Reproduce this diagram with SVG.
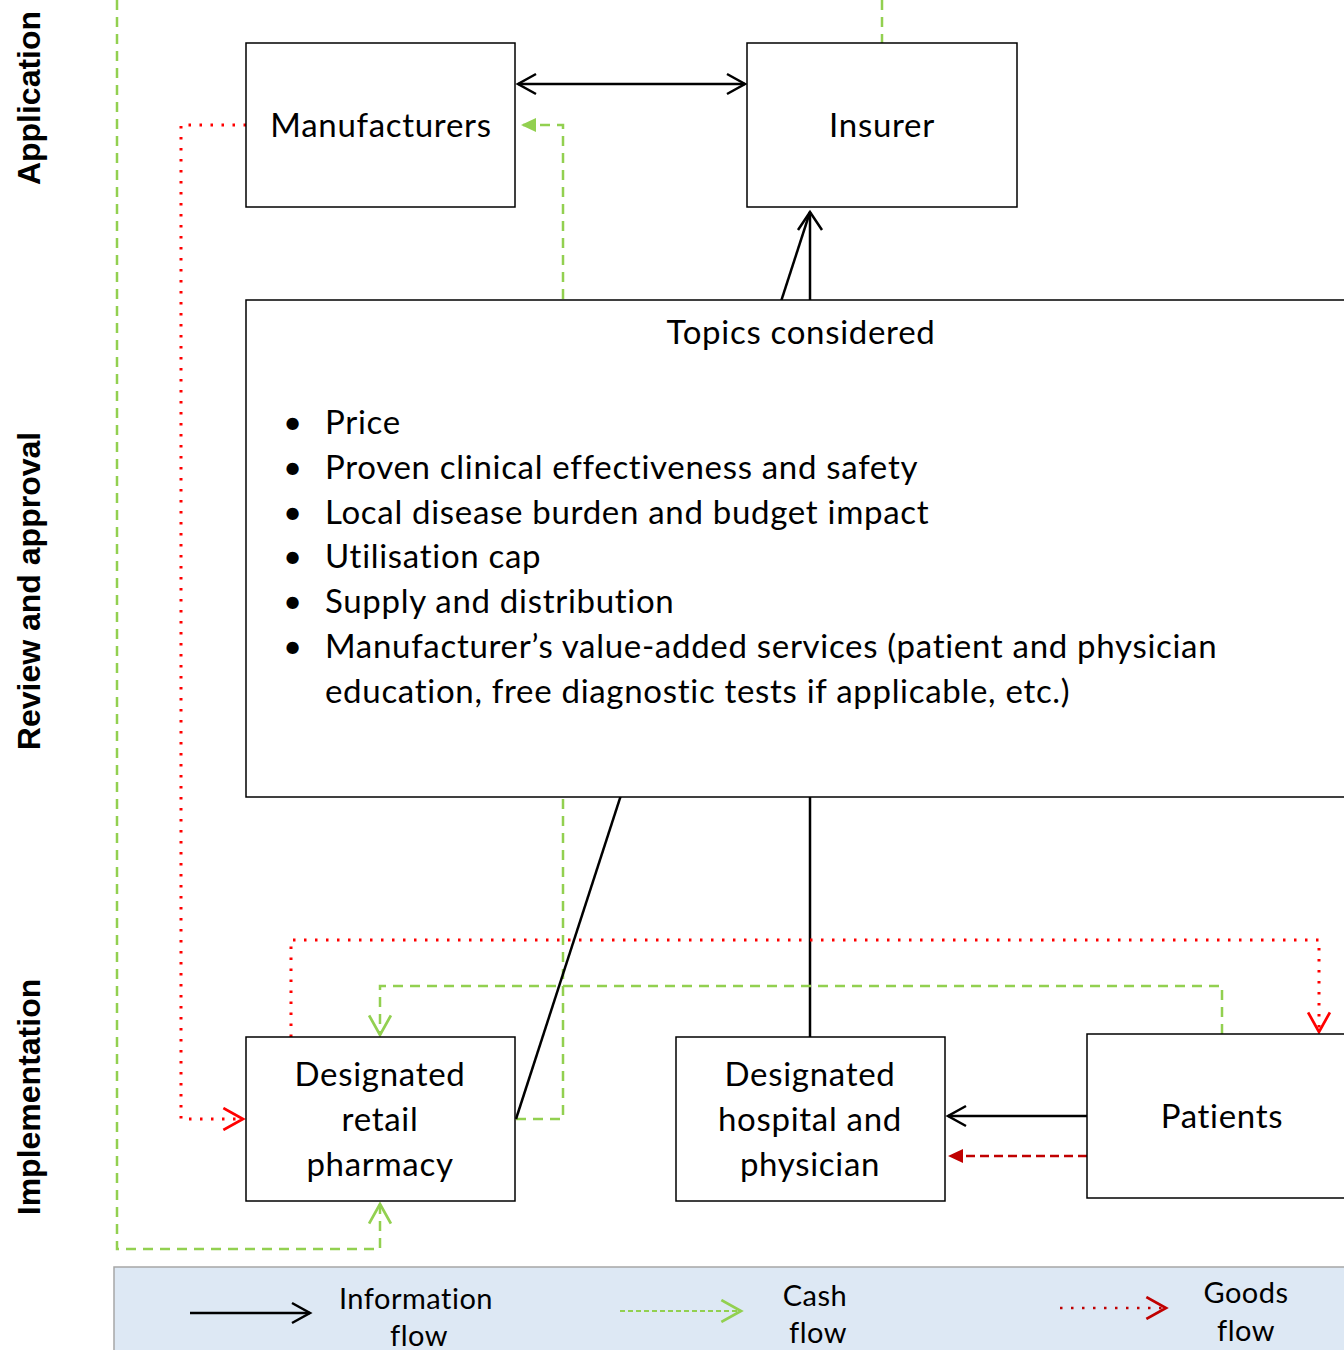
<svg xmlns="http://www.w3.org/2000/svg" width="1344" height="1350" viewBox="0 0 1344 1350">
<style>
.box{fill:#fff;stroke:#000;stroke-width:1.5}
.t{font-family:Lato,"Open Sans","Liberation Sans",sans-serif;font-size:33px;letter-spacing:0.7px;fill:#000}
.c{text-anchor:middle}
.lab{font-family:"Liberation Sans",Arial,sans-serif;font-weight:bold;font-size:32px;fill:#000;text-anchor:middle}
.lg{font-family:Lato,"Open Sans","Liberation Sans",sans-serif;font-size:29px;letter-spacing:0.5px;fill:#000;text-anchor:middle}
.info{fill:none;stroke:#000;stroke-width:2.5}
.cash{fill:none;stroke:#92d050;stroke-width:2.5;stroke-dasharray:10 7}
.goods{fill:none;stroke:#ff0000;stroke-width:3;stroke-dasharray:2.5 8.5}
.pay{fill:none;stroke:#c00000;stroke-width:2.5;stroke-dasharray:9 5}
</style>
<defs>
<marker id="aBlk" markerUnits="userSpaceOnUse" markerWidth="24" markerHeight="28" refX="19" refY="12" orient="auto-start-reverse" viewBox="0 0 24 24"><path d="M1,2 L19,12 L1,22" fill="none" stroke="#000" stroke-width="2.5"/></marker>
<marker id="aBlkL" markerUnits="userSpaceOnUse" markerWidth="24" markerHeight="30" refX="19" refY="13" orient="auto" viewBox="0 0 24 26"><path d="M1,1 L19,13 L1,25" fill="none" stroke="#000" stroke-width="2.5"/></marker>
<marker id="aGrn" markerUnits="userSpaceOnUse" markerWidth="24" markerHeight="24" refX="19" refY="11" orient="auto" viewBox="0 0 22 22"><path d="M1,1 L19,11 L1,21" fill="none" stroke="#92d050" stroke-width="2.5"/></marker>
<marker id="aRed" markerUnits="userSpaceOnUse" markerWidth="24" markerHeight="24" refX="19" refY="11" orient="auto" viewBox="0 0 22 22"><path d="M1,1 L19,11 L1,21" fill="none" stroke="#ff0000" stroke-width="2.5"/></marker>
<marker id="aRedD" markerUnits="userSpaceOnUse" markerWidth="24" markerHeight="24" refX="19" refY="11" orient="auto" viewBox="0 0 22 22"><path d="M1,1 L19,11 L1,21" fill="none" stroke="#c00000" stroke-width="2.5"/></marker>
<marker id="tGrn" markerUnits="userSpaceOnUse" markerWidth="16" markerHeight="16" refX="15" refY="8" orient="auto" viewBox="0 0 16 16"><path d="M0,1 L15,8 L0,15 z" fill="#92d050"/></marker>
<marker id="tRed" markerUnits="userSpaceOnUse" markerWidth="16" markerHeight="16" refX="15" refY="8" orient="auto" viewBox="0 0 16 16"><path d="M0,1 L15,8 L0,15 z" fill="#c00000"/></marker>
</defs>
<rect width="1344" height="1350" fill="#fff"/>

<g id="phase-labels">
<text class="lab" transform="translate(40,98) rotate(-90)">Application</text>
<text class="lab" transform="translate(40,591) rotate(-90)">Review and approval</text>
<text class="lab" transform="translate(40,1097) rotate(-90)">Implementation</text>
</g>

<g id="connectors">
<path class="info" d="M518,84 H745" marker-start="url(#aBlk)" marker-end="url(#aBlk)"/>
<path class="cash" d="M516,1119 H563 V125 H521" marker-end="url(#tGrn)"/>
<path class="cash" d="M882,0 V43"/>
<path class="cash" d="M117,0 V1249 H380 V1204" marker-end="url(#aGrn)"/>
<path class="goods" d="M246,125 H181 V1119 H243" marker-end="url(#aRed)"/>
<path class="info" d="M516,1119 L810,212"/>
<path class="info" d="M810,1037 V212" marker-end="url(#aBlkL)"/>
<path class="goods" d="M291,1037 V940 H1319 V1032" marker-end="url(#aRed)"/>
<path class="cash" d="M1222,1034 V986 H380 V1035" marker-end="url(#aGrn)"/>
<path class="info" d="M1087,1116 H948" marker-end="url(#aBlk)"/>
<path class="pay" d="M1087,1156 H948" marker-end="url(#tRed)"/>
</g>

<g id="manufacturers">
<rect class="box" x="246" y="43" width="269" height="164"/>
<text class="t c" x="381" y="137">Manufacturers</text>
</g>
<g id="insurer">
<rect class="box" x="747" y="43" width="270" height="164"/>
<text class="t c" x="882" y="137">Insurer</text>
</g>
<g id="topics">
<rect class="box" x="246" y="300" width="1120" height="497"/>
<text class="t c" x="801" y="344">Topics considered</text>
<g class="t">
<text x="283" y="434">•</text><text x="325" y="434">Price</text>
<text x="283" y="479">•</text><text x="325" y="479">Proven clinical effectiveness and safety</text>
<text x="283" y="524">•</text><text x="325" y="524">Local disease burden and budget impact</text>
<text x="283" y="568">•</text><text x="325" y="568">Utilisation cap</text>
<text x="283" y="613">•</text><text x="325" y="613">Supply and distribution</text>
<text x="283" y="658">•</text><text x="325" y="658">Manufacturer’s value-added services (patient and physician</text>
<text x="325" y="703">education, free diagnostic tests if applicable, etc.)</text>
</g>
</g>
<g id="pharmacy">
<rect class="box" x="246" y="1037" width="269" height="164"/>
<text class="t c" x="380" y="1086">Designated</text>
<text class="t c" x="380" y="1131">retail</text>
<text class="t c" x="380" y="1176">pharmacy</text>
</g>
<g id="hospital">
<rect class="box" x="676" y="1037" width="269" height="164"/>
<text class="t c" x="810" y="1086">Designated</text>
<text class="t c" x="810" y="1131">hospital and</text>
<text class="t c" x="810" y="1176">physician</text>
</g>
<g id="patients">
<rect class="box" x="1087" y="1034" width="300" height="164"/>
<text class="t c" x="1222" y="1128">Patients</text>
</g>

<g id="legend">
<rect x="114" y="1267" width="1260" height="100" fill="#dde8f4" stroke="#a6a6a6" stroke-width="1.5"/>
<path class="info" d="M190,1313 H310" marker-end="url(#aBlk)"/>
<text class="lg" x="416" y="1309">Information</text>
<text class="lg" x="419" y="1346">flow</text>
<path fill="none" stroke="#92d050" stroke-width="2" stroke-dasharray="5 3" d="M620,1311 H741" marker-end="url(#aGrn)"/>
<text class="lg" x="815" y="1306">Cash</text>
<text class="lg" x="818" y="1343">flow</text>
<path fill="none" stroke="#c00000" stroke-width="2.5" stroke-dasharray="2.5 8.5" d="M1060,1308 H1166" marker-end="url(#aRedD)"/>
<text class="lg" x="1246" y="1303">Goods</text>
<text class="lg" x="1246" y="1341">flow</text>
</g>
</svg>
